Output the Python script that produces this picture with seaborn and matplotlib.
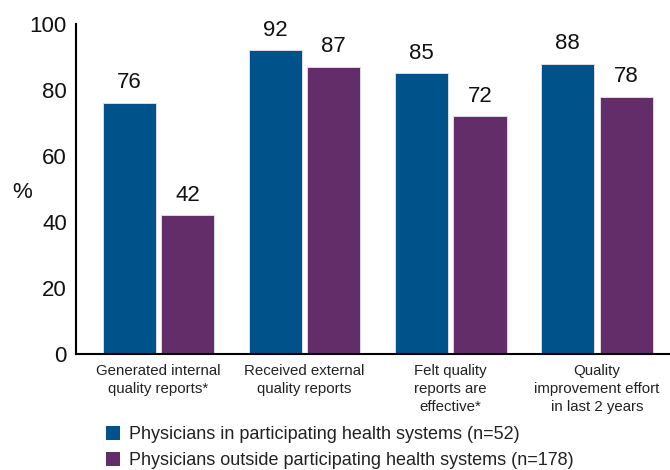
import matplotlib
matplotlib.use('Agg')
import matplotlib.pyplot as plt
from matplotlib.patches import Patch
import pandas as pd
import seaborn as sns

measures = ['Generated internal\nquality reports*',
            'Received external\nquality reports',
            'Felt quality\nreports are\neffective*',
            'Quality\nimprovement effort\nin last 2 years']
groups = ['Physicians in participating health systems (n=52)',
          'Physicians outside participating health systems (n=178)']
inside_pct = [76, 92, 85, 88]
outside_pct = [42, 87, 72, 78]
colors = ['#00528A', '#632D69']

df = pd.DataFrame({
    'measure': measures * 2,
    'pct': inside_pct + outside_pct,
    'group': [groups[0]] * 4 + [groups[1]] * 4,
})

sns.set_style('white')
plt.rcParams['font.family'] = ['Liberation Sans', 'DejaVu Sans']

fig = plt.figure(figsize=(6.7, 4.7), dpi=100)
ax = fig.add_axes([0.1134, 0.2468, 0.8866, 0.7022])

sns.barplot(data=df, x='measure', y='pct', hue='group', order=measures,
            hue_order=groups, palette=colors, saturation=1, width=0.8,
            gap=0.09, errorbar=None, legend=False, edgecolor='#dcdce8',
            linewidth=0.7, ax=ax)

for c in ax.containers:
    ax.bar_label(c, fmt='%d', padding=7, fontsize=16, color='#111111')

ax.set_ylim(0, 100)
ax.set_xlim(-0.564, 3.5)
ax.set_yticks([0, 20, 40, 60, 80, 100])
ax.tick_params(axis='y', length=0, pad=6.5, labelsize=16, labelcolor='#111111')

# labels sit at the category centres, tick marks at the group boundaries
ax.set_xticks([0.5, 1.5, 2.5])
ax.set_xticklabels([])
ax.set_xticks(range(len(measures)), minor=True)
ax.set_xticklabels(measures, minor=True, fontsize=10.8, linespacing=1.35,
                   color='#222222')
ax.tick_params(axis='x', which='major', direction='in', length=6, width=1.2,
               color='black')
ax.tick_params(axis='x', which='minor', length=0, pad=7.5)

ax.set_xlabel('')
ax.set_ylabel('%', rotation=0, fontsize=16, color='#111111', va='center')
ax.yaxis.set_label_coords(-0.091, 0.49)

sns.despine(ax=ax, top=True, right=True)
for side in ['left', 'bottom']:
    ax.spines[side].set_color('black')
    ax.spines[side].set_linewidth(1.5)

handles = [Patch(facecolor=col, edgecolor='none') for col in colors]
fig.legend(handles=handles, labels=groups, loc='upper left',
           bbox_to_anchor=(0.158, 0.094), frameon=False, fontsize=13,
           handlelength=0.8, handleheight=0.8, handletextpad=0.5,
           labelspacing=0.5, borderpad=0, borderaxespad=0,
           labelcolor='#222222')

fig.savefig('out.png', dpi=100)
